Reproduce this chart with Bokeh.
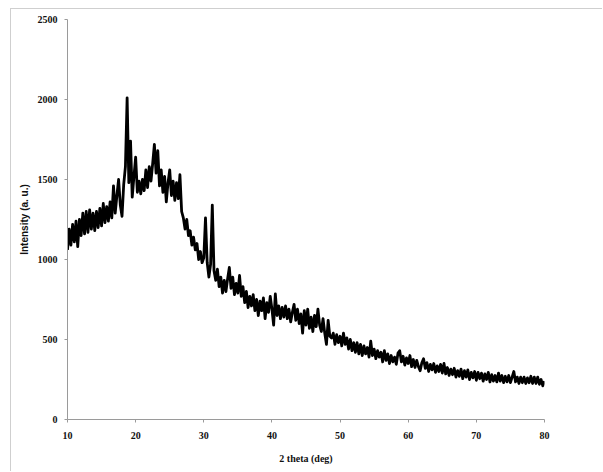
from bokeh.plotting import figure
from bokeh.embed import file_html
from bokeh.resources import INLINE
from bokeh.models import FixedTicker

# 2-theta grid: 10.00 to 80.00 deg, 0.25 deg step
two_theta_start = 10.0
two_theta_step = 0.25

# Intensity, four readings per degree (d.00, d.25, d.50, d.75)
intensity = [
    1060, 1190, 1090, 1220,   # 10
    1110, 1240, 1080, 1250,   # 11
    1150, 1290, 1160, 1300,   # 12
    1170, 1310, 1190, 1290,   # 13
    1180, 1300, 1200, 1320,   # 14
    1210, 1350, 1230, 1330,   # 15
    1240, 1360, 1260, 1460,   # 16
    1290, 1400, 1500, 1340,   # 17
    1270, 1470, 1580, 2010,   # 18
    1480, 1740, 1390, 1520,   # 19
    1640, 1420, 1490, 1410,   # 20
    1500, 1430, 1560, 1450,   # 21
    1580, 1490, 1600, 1720,   # 22
    1540, 1680, 1460, 1560,   # 23
    1420, 1520, 1360, 1480,   # 24
    1560, 1400, 1490, 1370,   # 25
    1480, 1380, 1530, 1300,   # 26
    1260, 1190, 1250, 1150,   # 27
    1180, 1090, 1140, 1060,   # 28
    1100, 1000, 1050, 980,    # 29
    1010, 1260, 980, 890,     # 30
    970, 1340, 930, 870,      # 31
    940, 830, 890, 790,       # 32
    870, 800, 880, 950,       # 33
    820, 890, 780, 850,       # 34
    790, 900, 770, 830,       # 35
    730, 800, 700, 770,       # 36
    710, 780, 680, 750,       # 37
    650, 740, 680, 760,       # 38
    630, 730, 670, 770,       # 39
    690, 590, 785, 650,       # 40
    710, 630, 700, 640,       # 41
    710, 630, 690, 610,       # 42
    670, 720, 620, 690,       # 43
    600, 660, 540, 680,       # 44
    590, 690, 570, 640,       # 45
    550, 650, 580, 690,       # 46
    590, 550, 630, 540,       # 47
    470, 620, 520, 510,       # 48
    540, 470, 530, 480,       # 49
    520, 460, 540, 470,       # 50
    510, 440, 500, 430,       # 51
    480, 420, 480, 410,       # 52
    470, 400, 460, 410,       # 53
    450, 390, 490, 400,       # 54
    440, 380, 430, 390,       # 55
    420, 360, 430, 370,       # 56
    410, 350, 400, 360,       # 57
    390, 345, 415, 430,       # 58
    360, 395, 340, 385,       # 59
    350, 400, 330, 375,       # 60
    325, 370, 330, 305,       # 61
    355, 380, 320, 355,       # 62
    300, 345, 310, 350,       # 63
    295, 335, 300, 345,       # 64
    290, 350, 285, 325,       # 65
    275, 315, 280, 320,       # 66
    265, 305, 270, 315,       # 67
    255, 305, 265, 310,       # 68
    250, 295, 260, 300,       # 69
    245, 295, 255, 290,       # 70
    240, 285, 250, 295,       # 71
    235, 280, 240, 275,       # 72
    235, 290, 240, 275,       # 73
    230, 270, 235, 275,       # 74
    230, 265, 300, 235,       # 75
    265, 225, 265, 230,       # 76
    265, 225, 260, 230,       # 77
    270, 225, 265, 225,       # 78
    265, 220, 250, 210,       # 79
    240,                      # 80
]
two_theta = [two_theta_start + i * two_theta_step for i in range(len(intensity))]

x_ticks = [10, 20, 30, 40, 50, 60, 70, 80]
y_ticks = [0, 500, 1000, 1500, 2000, 2500]

p = figure(width=592, height=463, output_backend="svg", toolbar_location=None,
           x_range=(10, 80), y_range=(0, 2500),
           min_border_left=56, min_border_top=10, min_border_right=59, min_border_bottom=53,
           styles={"margin-left": "10px", "margin-top": "8px",
                   "border-left": "1px solid #cfcfcf", "border-top": "1px solid #cfcfcf"})

p.line(two_theta, intensity, line_color="black", line_width=2.8, line_join="round")

p.outline_line_color = None
p.xgrid.visible = False
p.ygrid.visible = False

for ax in (p.xaxis[0], p.yaxis[0]):
    ax.axis_line_color = "#9a9a9a"
    ax.major_tick_line_color = "#9a9a9a"
    ax.major_tick_in = 0
    ax.major_tick_out = 3
    ax.minor_tick_line_color = None
    ax.major_label_text_font = "Liberation Serif"
    ax.major_label_text_font_style = "bold"
    ax.major_label_text_font_size = "10px"
    ax.major_label_text_color = "#111111"
    ax.axis_label_text_color = "#111111"

p.xaxis.ticker = FixedTicker(ticks=x_ticks)
p.yaxis.ticker = FixedTicker(ticks=y_ticks)
p.xaxis.major_label_standoff = 9
p.yaxis.major_label_standoff = 7

p.xaxis.axis_label = "2 theta (deg)"
p.xaxis.axis_label_text_font = "Liberation Serif"
p.xaxis.axis_label_text_font_style = "bold"
p.xaxis.axis_label_text_font_size = "10px"
p.xaxis.axis_label_standoff = 11

p.yaxis.axis_label = "Intensity (a. u.)"
p.yaxis.axis_label_text_font = "Liberation Sans"
p.yaxis.axis_label_text_font_style = "bold"
p.yaxis.axis_label_text_font_size = "10px"
p.yaxis.axis_label_standoff = 5

open("out.html", "w").write(file_html(p, INLINE))
